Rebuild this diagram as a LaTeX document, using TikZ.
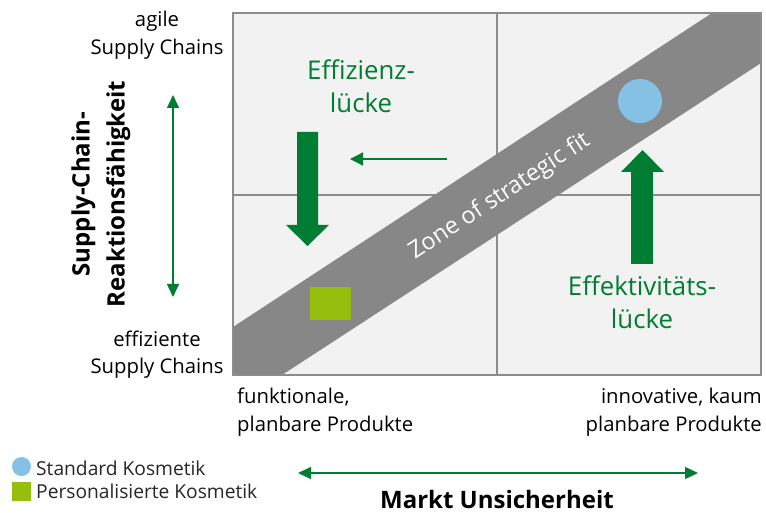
\documentclass[tikz,border=0pt]{standalone}
\usepackage{fontspec}
\setmainfont{Open Sans}
\usetikzlibrary{arrows.meta}
\definecolor{fitgreen}{RGB}{0,125,50}
\definecolor{quadfill}{RGB}{242,242,242}
\definecolor{bandgray}{RGB}{135,135,135}
\definecolor{framegray}{RGB}{140,140,140}
\definecolor{stdblue}{RGB}{133,193,229}
\definecolor{perslime}{RGB}{150,190,14}
\tikzset{
  lbl/.style={font=\fontsize{20.3}{28}\selectfont, align=center, text=black, inner sep=0},
  greenlbl/.style={font=\fontsize{25.8}{33}\selectfont, align=center, text=fitgreen, inner sep=0},
  framelines/.style={draw=framegray, line width=1.6pt},
  thinarrow/.style={draw=fitgreen, line width=1.3pt},
  bigarrow/.style={fill=fitgreen},
  legendtxt/.style={font=\fontsize{19.2}{22}\selectfont, anchor=base west, inner sep=0, text=black!85},
}
\begin{document}
\begin{tikzpicture}[x=1pt,y=-1pt]
\useasboundingbox (0,0) rectangle (766,513);
% quadrants
\fill[quadfill] (233,13) rectangle (761,375);
\draw[framelines] (497,13) -- (497,375);
\draw[framelines] (233,195) -- (761,195);
% band
\fill[bandgray] (233,327) -- (712,13) -- (761,13) -- (761,63) -- (282,375) -- (233,375) -- cycle;
\draw[framelines] (233,13) rectangle (761,375);
\node[rotate=33.2, text=white, font=\fontsize{23.5}{26}\selectfont, inner sep=0] (zone) at (500,197) {Zone of strategic fit};

% markers
\node[circle, fill=stdblue, minimum size=44pt, inner sep=0] (std) at (640,101) {};
\node[fill=perslime, minimum width=41pt, minimum height=33pt, inner sep=0] (pers) at (330.5,303.5) {};

% big arrows
\fill[bigarrow] (297,132) -- (318,132) -- (318,225) -- (329,225) -- (307.5,246) -- (286,225) -- (297,225) -- cycle;
\fill[bigarrow] (631,264) -- (653,264) -- (653,172) -- (664,172) -- (642.5,150) -- (621,172) -- (631,172) -- cycle;

% thin arrow in quadrant
\coordinate (ta) at (447,159);
\coordinate (tb) at (350,159);
\draw[thinarrow, -{Triangle[length=13pt,width=13pt]}] (ta) -- (tb);

% gap labels
\node[greenlbl, anchor=base] (eff1) at (361,80) {Effizienz-};
\node[greenlbl, anchor=base] (eff2) at (361,113) {lücke};
\node[greenlbl, anchor=base] (efk1) at (642,295) {Effektivitäts-};
\node[greenlbl, anchor=base] (efk2) at (642,328) {lücke};

% y axis
\node[lbl, anchor=base] (ag1) at (157,27) {agile};
\node[lbl, anchor=base] (ag2) at (157,55) {Supply Chains};
\node[lbl, anchor=base] (ef1) at (157,346) {effiziente};
\node[lbl, anchor=base] (ef2) at (157,373) {Supply Chains};
\node[rotate=90, font=\bfseries\fontsize{24}{35}\selectfont, align=center, inner sep=0] (yaxis) at (101,194) {Supply-Chain-\\Reaktionsfähigkeit};
\coordinate (ya) at (173,95);
\coordinate (yb) at (173,297);
\draw[thinarrow, {Triangle[length=13pt,width=12pt]}-{Triangle[length=13pt,width=12pt]}] (ya) -- (yb);

% x axis
\node[lbl, anchor=base west] (fn1) at (237,403) {funktionale,};
\node[lbl, anchor=base west] (fn2) at (237,431) {planbare Produkte};
\node[lbl, anchor=base east] (in1) at (762,403) {innovative, kaum};
\node[lbl, anchor=base east] (in2) at (762,431) {planbare Produkte};
\coordinate (xa) at (298,473);
\coordinate (xb) at (698,473);
\draw[thinarrow, {Triangle[length=13pt,width=12pt]}-{Triangle[length=13pt,width=12pt]}] (xa) -- (xb);
\node[font=\bfseries\fontsize{24}{26}\selectfont, anchor=base, inner sep=0] (xaxis) at (497,508) {Markt Unsicherheit};

% legend
\node[circle, fill=stdblue, minimum size=19pt, inner sep=0] (lstd) at (21.5,466.5) {};
\node[legendtxt] (lstdt) at (36,475) {Standard Kosmetik};
\node[fill=perslime, minimum size=19pt, inner sep=0] (lpers) at (21.5,491.5) {};
\node[legendtxt] (lperst) at (36,498) {Personalisierte Kosmetik};
\end{tikzpicture}
\end{document}
